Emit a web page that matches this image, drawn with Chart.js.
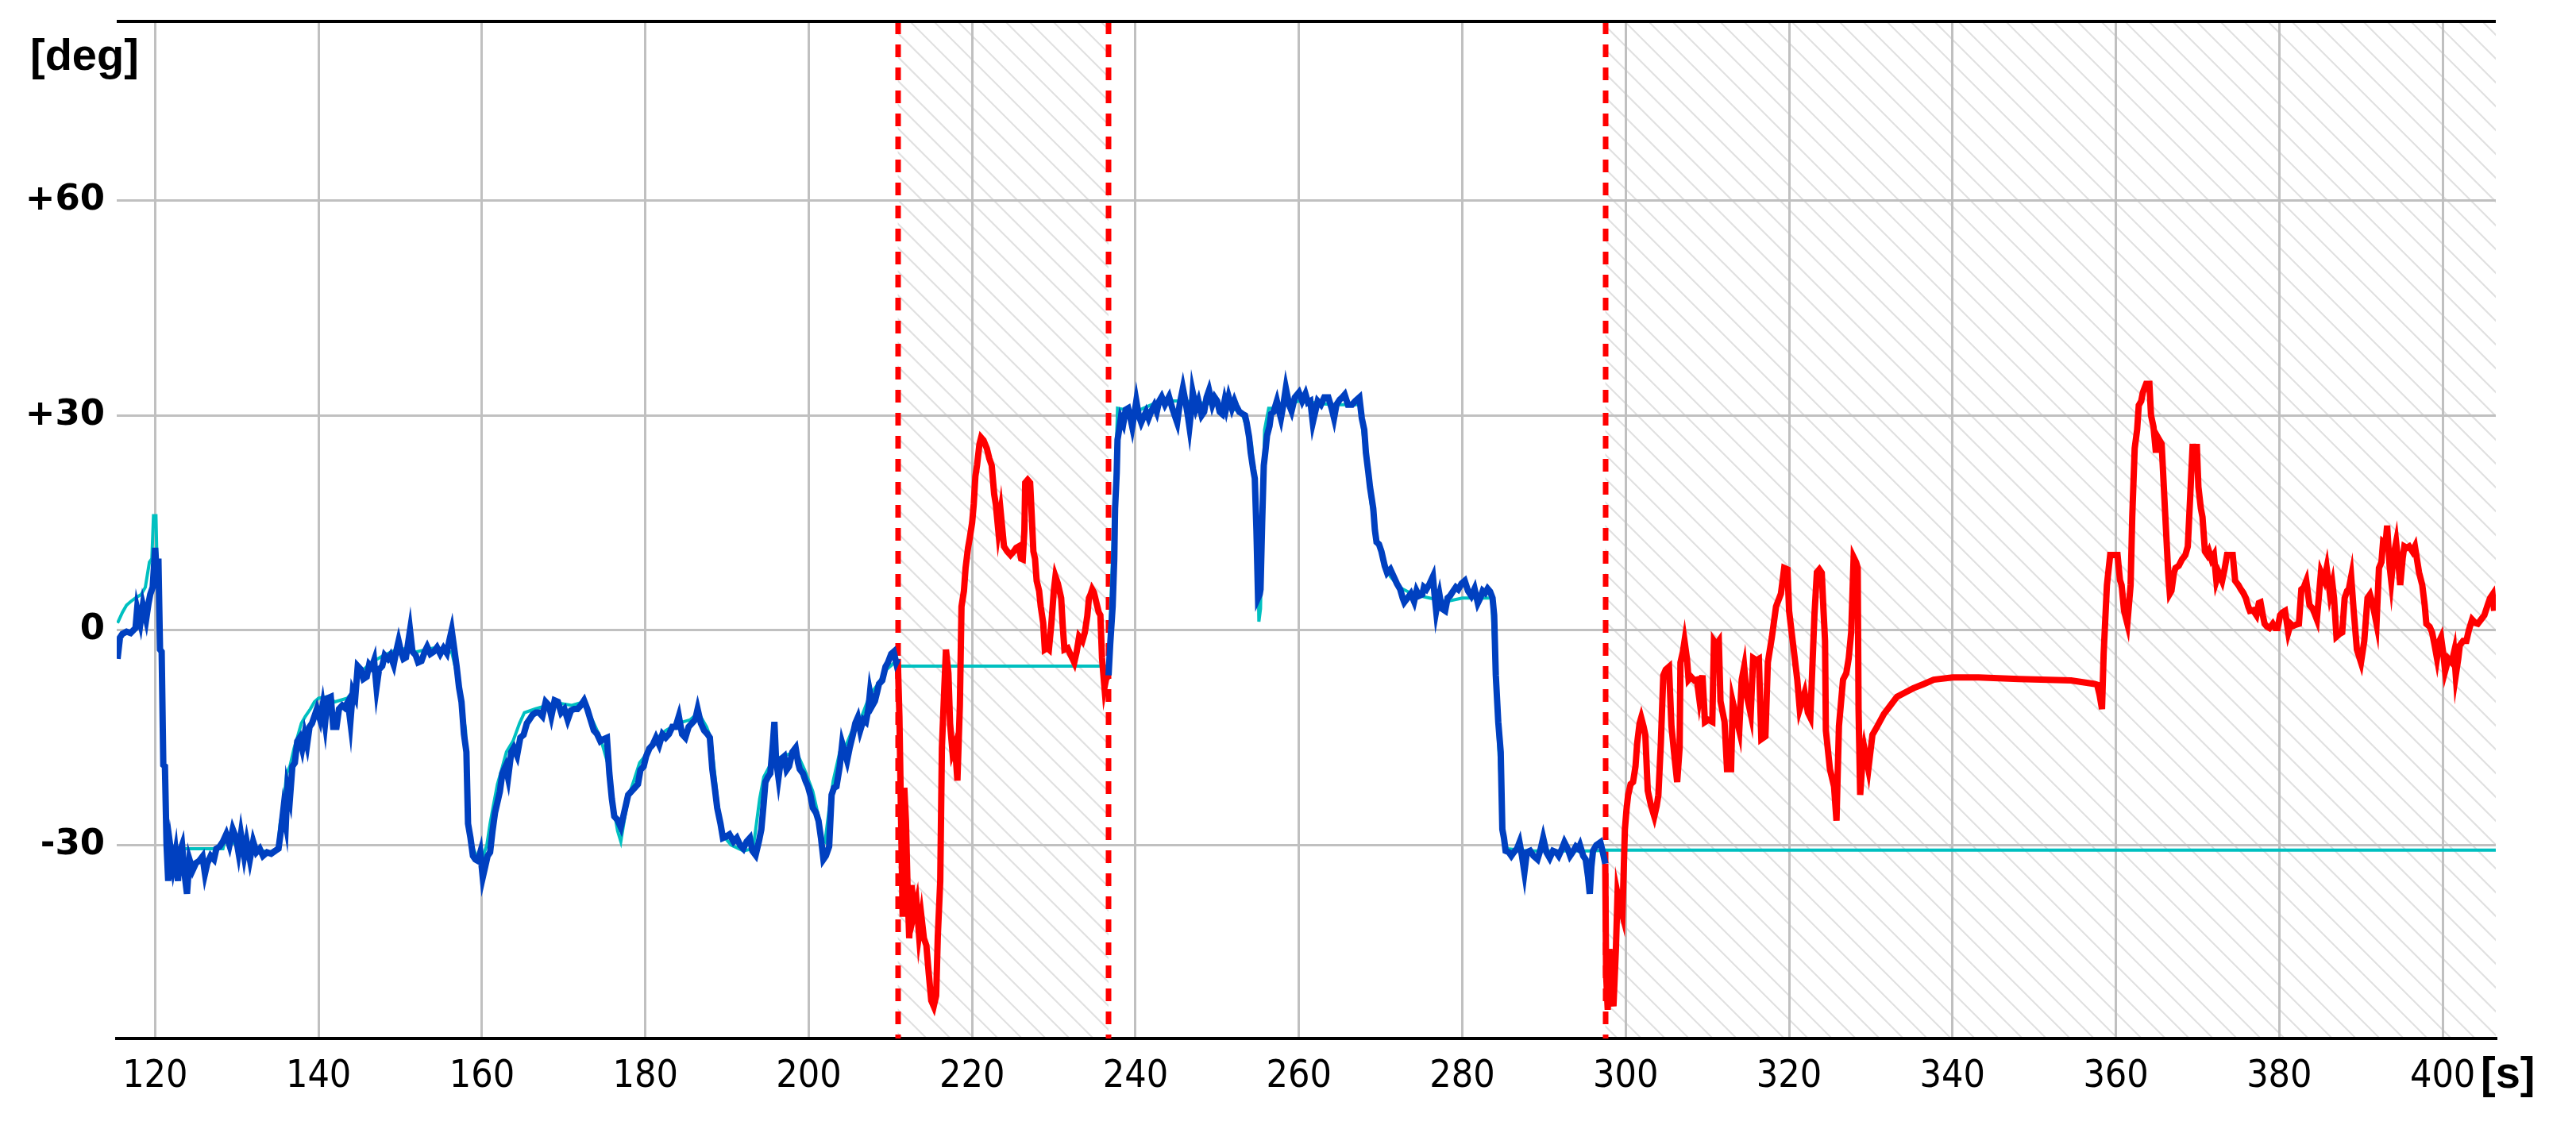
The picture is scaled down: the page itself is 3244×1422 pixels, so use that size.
<!DOCTYPE html>
<html>
<head>
<meta charset="utf-8">
<title>deg / s</title>
<script src="https://cdn.jsdelivr.net/npm/chart.js"></script>
<style>
  html, body { margin: 0; padding: 0; background: #fff; }
  #chart { display: block; }
</style>
</head>
<body>
<canvas id="chart" width="3244" height="1422" style="width:3244px;height:1422px"></canvas>
<script>
// axes
const xRange = [115.3, 406.5];
const yRange = [-57, 85];
const xTicks = [120, 140, 160, 180, 200, 220, 240, 260, 280, 300, 320, 340, 360, 380, 400];
const yTicks = [-30, 0, 30, 60];

// moments de bascule (traits rouges pointilles) et zones hachurees
const switchTimes = [210.9, 236.7, 297.5];
const manualSpans = [[210.9, 236.7], [297.5, 406.5]];

// mesure (bleu) - 1er troncon [t (s), angle (deg)]
const blue1 = [
  [115.4,-4.0],[115.7,-1.0],[116.0,-0.5],[116.5,-0.2],[117.0,-0.4],[117.6,0.3],[117.8,3.0],[118.2,1.0],
  [118.5,3.5],[118.9,1.5],[119.2,3.8],[119.4,5.0],[119.7,6.0],[120.0,11.5],[120.2,8.0],[120.4,10.0],
  [120.6,-2.7],[120.8,-3.0],[121.0,-18.8],[121.2,-19.0],[121.4,-30.0],[121.6,-35.0],[121.9,-30.5],[122.2,-33.0],
  [122.5,-31.0],[122.8,-35.0],[123.0,-31.0],[123.3,-30.0],[123.6,-34.0],[123.9,-36.8],[124.2,-32.0],[124.6,-33.5],
  [125.0,-32.5],[125.4,-32.2],[125.8,-31.6],[126.1,-34.0],[126.4,-32.5],[126.8,-31.5],[127.2,-32.0],[127.5,-30.5],
  [127.9,-30.2],[128.3,-29.5],[128.7,-28.5],[129.1,-30.0],[129.5,-27.8],[129.9,-29.0],[130.2,-31.0],[130.5,-28.5],
  [130.9,-31.5],[131.2,-29.5],[131.6,-32.0],[132.0,-29.5],[132.4,-31.0],[132.8,-30.5],[133.2,-31.5],[133.7,-31.0],
  [134.2,-31.2],[134.7,-30.8],[135.1,-30.5],[135.4,-28.0],[135.7,-25.0],[136.0,-27.0],[136.2,-22.0],[136.5,-23.5],
  [136.8,-19.0],[137.1,-18.5],[137.4,-15.5],[137.7,-15.0],[138.0,-16.5],[138.3,-14.5],[138.6,-16.0],[138.9,-13.5],
  [139.2,-13.0],[139.5,-12.0],[139.8,-11.0],[140.2,-12.5],[140.5,-10.5],[140.8,-13.0],[141.1,-9.5],[141.5,-9.3],
  [141.8,-13.5],[142.2,-13.5],[142.5,-11.0],[142.9,-10.5],[143.2,-10.8],[143.6,-10.0],[143.9,-12.8],[144.2,-8.5],
  [144.5,-9.3],[144.8,-5.0],[145.2,-5.5],[145.5,-6.8],[145.9,-6.5],[146.2,-4.8],[146.5,-5.2],[146.8,-4.2],
  [147.1,-8.0],[147.4,-5.5],[147.8,-5.0],[148.1,-3.5],[148.5,-4.0],[148.8,-3.5],[149.2,-4.8],[149.5,-3.0],
  [149.8,-1.5],[150.1,-3.0],[150.4,-4.0],[150.7,-3.8],[151.0,-1.5],[151.2,0.0],[151.5,-3.0],[151.9,-3.5],
  [152.2,-4.5],[152.6,-4.3],[153.0,-3.0],[153.3,-2.3],[153.7,-3.3],[154.1,-3.0],[154.5,-2.4],[154.9,-3.3],
  [155.3,-2.5],[155.7,-3.2],[156.0,-1.5],[156.3,0.0],[156.6,-2.5],[156.9,-5.0],[157.2,-8.0],[157.5,-10.0],
  [157.8,-14.5],[158.1,-17.0],[158.3,-27.0],[158.6,-29.0],[158.9,-31.5],[159.2,-32.0],[159.5,-32.2],[159.8,-31.0],
  [160.1,-34.5],[160.4,-33.0],[160.7,-31.5],[161.0,-31.0],[161.3,-28.0],[161.6,-25.5],[161.9,-24.0],[162.2,-22.5],
  [162.5,-20.0],[162.9,-19.0],[163.2,-20.6],[163.6,-17.0],[163.9,-16.4],[164.3,-17.5],[164.7,-15.0],[165.1,-14.6],
  [165.5,-13.0],[165.8,-12.5],[166.2,-11.8],[166.6,-11.5],[167.0,-11.5],[167.4,-12.0],[167.8,-10.0],[168.2,-10.5],
  [168.5,-12.0],[168.9,-9.8],[169.3,-10.0],[169.7,-11.5],[170.1,-11.0],[170.5,-12.5],[170.9,-11.2],[171.3,-11.0],
  [171.7,-11.0],[172.1,-10.5],[172.5,-9.8],[172.9,-11.0],[173.3,-12.5],[173.7,-14.0],[174.1,-14.5],[174.5,-15.5],
  [174.9,-15.2],[175.3,-15.0],[175.6,-20.0],[175.9,-23.5],[176.2,-26.0],[176.6,-26.5],[177.0,-27.5],[177.3,-26.0],
  [177.6,-24.5],[177.9,-23.0],[178.3,-22.5],[178.7,-22.0],[179.1,-21.5],[179.4,-19.5],[179.8,-19.0],[180.1,-17.6],
  [180.5,-16.5],[180.9,-16.0],[181.3,-15.0],[181.7,-16.0],[182.1,-14.5],[182.5,-15.0],[182.9,-14.5],[183.3,-13.5],
  [183.7,-13.5],[184.1,-12.0],[184.5,-14.5],[184.9,-15.0],[185.3,-13.5],[185.7,-13.0],[186.1,-12.5],[186.4,-11.0],
  [186.8,-13.0],[187.2,-14.0],[187.6,-14.5],[187.9,-15.0],[188.2,-19.4],[188.5,-22.0],[188.8,-24.8],[189.2,-27.0],
  [189.5,-29.0],[189.9,-28.8],[190.3,-28.5],[190.8,-29.5],[191.2,-29.0],[191.6,-30.0],[192.0,-30.5],[192.4,-29.5],
  [192.8,-29.0],[193.1,-30.8],[193.5,-31.4],[193.9,-29.5],[194.2,-27.8],[194.5,-24.0],[194.7,-21.2],[195.0,-20.5],
  [195.3,-20.0],[195.6,-16.0],[195.8,-12.8],[196.0,-18.0],[196.3,-20.6],[196.6,-18.0],[197.0,-17.6],[197.3,-19.5],
  [197.6,-19.0],[198.0,-17.0],[198.4,-16.4],[198.7,-18.5],[198.9,-19.4],[199.3,-20.0],[199.6,-21.0],[199.9,-21.8],
  [200.2,-23.0],[200.5,-24.8],[200.9,-25.5],[201.2,-26.6],[201.5,-29.0],[201.8,-32.0],[202.1,-31.5],[202.5,-30.2],
  [202.8,-23.0],[203.1,-22.0],[203.4,-21.8],[203.8,-19.0],[204.1,-15.8],[204.4,-17.0],[204.7,-18.2],[205.0,-16.5],
  [205.4,-14.6],[205.7,-13.0],[206.0,-12.2],[206.3,-14.0],[206.7,-12.5],[207.0,-12.8],[207.3,-11.0],[207.5,-8.7],
  [207.8,-10.5],[208.1,-9.9],[208.4,-8.5],[208.6,-7.5],[209.0,-7.0],[209.4,-5.1],[209.7,-4.5],[210.1,-3.3],
  [210.4,-3.0],[210.7,-4.5],[210.9,-4.0]
];

// mesure (bleu) - 2e troncon
const blue2 = [
  [236.7,-6.3],[236.9,-2.0],[237.2,3.3],[237.4,10.0],[237.5,17.0],[237.7,22.0],[237.8,26.6],[238.0,28.0],
  [238.2,29.6],[238.5,28.8],[238.8,30.8],[239.1,31.0],[239.4,29.5],[239.6,28.4],[239.9,30.5],[240.1,32.0],
  [240.4,30.0],[240.7,29.0],[241.0,29.8],[241.3,30.5],[241.6,29.6],[241.9,30.5],[242.3,31.4],[242.6,30.5],
  [242.9,32.0],[243.2,32.6],[243.6,31.5],[244.1,32.6],[244.5,31.0],[244.8,30.0],[245.1,29.0],[245.4,31.5],
  [245.8,33.8],[246.1,32.0],[246.4,30.0],[246.6,28.4],[246.9,31.5],[247.0,33.2],[247.4,31.0],[247.7,32.0],
  [248.1,30.0],[248.4,30.5],[248.7,32.5],[249.0,33.5],[249.4,31.5],[249.7,32.5],[250.0,32.0],[250.3,30.5],
  [250.6,30.2],[250.9,32.0],[251.1,31.0],[251.4,32.6],[251.8,31.0],[252.1,32.0],[252.3,31.4],[252.7,30.5],
  [253.1,30.2],[253.4,30.0],[253.6,29.0],[253.9,27.0],[254.1,24.8],[254.4,22.5],[254.6,21.2],[254.8,14.0],
  [255.0,4.5],[255.2,5.0],[255.3,5.7],[255.5,15.0],[255.7,23.0],[255.9,25.0],[256.1,27.2],[256.4,28.5],
  [256.6,30.2],[256.9,30.5],[257.3,32.0],[257.6,30.5],[257.8,29.6],[258.1,31.5],[258.4,33.8],[258.8,31.5],
  [259.1,30.6],[259.5,32.5],[260.0,33.2],[260.4,32.0],[260.8,33.0],[261.1,31.8],[261.4,32.0],[261.7,29.0],
  [262.0,30.5],[262.3,32.0],[262.7,31.5],[263.1,32.5],[263.6,32.5],[264.0,31.0],[264.3,29.6],[264.6,31.5],
  [265.0,32.2],[265.3,32.5],[265.6,32.9],[266.0,31.5],[266.5,31.5],[266.9,32.0],[267.4,32.5],[267.7,29.6],
  [268.0,28.0],[268.2,24.8],[268.5,22.0],[268.7,20.0],[268.9,18.5],[269.1,17.0],[269.3,14.0],[269.5,12.3],
  [269.8,12.0],[270.1,11.0],[270.5,9.0],[270.8,8.0],[271.2,8.5],[271.6,7.5],[272.0,6.5],[272.4,5.7],
  [272.7,4.5],[272.9,3.9],[273.3,4.5],[273.7,5.1],[274.1,4.0],[274.4,5.5],[274.7,4.8],[275.1,5.0],
  [275.3,6.0],[275.6,5.7],[276.0,6.5],[276.4,7.5],[276.6,5.0],[276.8,2.7],[277.0,4.0],[277.2,5.0],
  [277.5,3.0],[277.9,2.7],[278.2,4.5],[278.5,4.8],[278.9,5.5],[279.2,6.0],[279.5,5.7],[279.9,6.5],
  [280.3,6.9],[280.7,5.5],[281.1,4.8],[281.5,5.8],[281.9,3.8],[282.2,4.5],[282.5,5.5],[282.8,5.2],
  [283.1,5.8],[283.4,5.4],[283.7,4.5],[283.9,2.1],[284.1,-6.3],[284.4,-12.8],[284.7,-17.0],[284.9,-27.8],
  [285.1,-29.0],[285.3,-30.8],[285.7,-31.0],[286.0,-31.5],[286.3,-31.0],[286.7,-30.5],[287.0,-29.6],[287.3,-31.5],
  [287.6,-33.8],[287.9,-31.0],[288.3,-30.8],[288.7,-31.5],[289.2,-32.0],[289.6,-30.5],[289.9,-29.0],[290.3,-31.0],
  [290.7,-31.8],[291.1,-30.8],[291.5,-31.0],[291.8,-31.5],[292.2,-30.5],[292.5,-29.6],[292.9,-30.5],[293.2,-31.5],
  [293.5,-31.0],[293.9,-30.2],[294.2,-30.5],[294.4,-30.0],[294.8,-31.5],[295.1,-32.0],[295.4,-34.5],[295.6,-36.8],
  [295.8,-33.0],[296.0,-30.8],[296.4,-30.0],[296.9,-29.6],[297.2,-31.0],[297.5,-32.6]
];

// mesure en mode manuel (rouge) - 1er troncon
const red1 = [
  [210.9,-4.0],[211.1,-12.0],[211.3,-26.0],[211.5,-40.0],[211.7,-22.0],[211.9,-26.6],[212.1,-36.0],[212.3,-43.0],
  [212.6,-35.6],[212.9,-39.5],[213.2,-38.0],[213.5,-42.5],[213.8,-40.0],[214.1,-43.0],[214.4,-44.0],[214.7,-48.0],
  [215.0,-51.7],[215.3,-52.5],[215.6,-51.0],[215.8,-42.7],[216.1,-35.0],[216.3,-16.4],[216.6,-8.0],[216.8,-2.7],
  [217.1,-6.0],[217.3,-13.0],[217.6,-17.0],[217.9,-16.0],[218.2,-21.0],[218.5,-10.5],[218.7,3.3],[219.0,5.5],
  [219.2,8.7],[219.5,11.5],[219.7,12.8],[220.0,15.0],[220.2,17.6],[220.4,21.5],[220.6,23.0],[220.9,26.0],
  [221.1,26.9],[221.4,26.5],[221.8,25.4],[222.1,24.0],[222.4,23.0],[222.7,19.0],[222.9,17.6],[223.2,14.0],
  [223.5,16.5],[223.9,11.7],[224.3,11.0],[224.7,10.5],[225.1,11.0],[225.4,11.5],[225.7,11.7],[226.0,10.0],
  [226.2,9.9],[226.4,14.0],[226.5,20.6],[226.8,21.0],[227.1,20.6],[227.3,16.0],[227.5,11.0],[227.7,10.0],
  [227.9,6.9],[228.2,5.5],[228.4,3.3],[228.7,1.0],[228.9,-2.7],[229.2,-2.5],[229.4,-2.7],[229.7,0.9],
  [230.0,5.5],[230.2,7.5],[230.5,6.5],[230.9,4.5],[231.1,0.5],[231.3,-2.7],[231.7,-2.5],[232.0,-3.3],
  [232.3,-4.0],[232.5,-4.5],[232.8,-3.0],[233.1,-0.9],[233.5,-1.5],[233.8,-0.3],[234.1,2.0],[234.3,4.5],
  [234.5,5.0],[234.7,5.7],[234.9,5.3],[235.2,3.9],[235.5,2.5],[235.7,2.1],[235.9,-3.9],[236.2,-8.0],
  [236.4,-6.8],[236.7,-6.3]
];

// mesure en mode manuel (rouge) - 2e troncon
const red2 = [
  [297.5,-32.6],[297.6,-48.0],[297.8,-53.0],[298.0,-44.5],[298.2,-50.0],[298.5,-52.5],[298.8,-44.5],[299.0,-36.8],
  [299.3,-38.5],[299.6,-39.8],[299.9,-27.8],[300.1,-25.0],[300.3,-23.0],[300.6,-21.5],[300.9,-21.2],[301.2,-19.0],
  [301.4,-15.8],[301.7,-13.0],[301.9,-12.2],[302.2,-13.5],[302.4,-14.6],[302.7,-22.4],[303.1,-24.5],[303.5,-26.0],
  [303.8,-24.5],[304.0,-23.0],[304.3,-15.8],[304.6,-6.3],[304.9,-5.5],[305.3,-5.1],[305.6,-13.4],[306.0,-18.0],
  [306.3,-21.2],[306.6,-16.4],[306.7,-4.5],[307.0,-3.0],[307.2,-1.5],[307.5,-4.0],[307.7,-6.9],[308.0,-6.5],
  [308.4,-7.0],[308.7,-6.9],[309.0,-9.5],[309.4,-6.3],[309.7,-12.8],[310.1,-12.5],[310.6,-12.8],[310.8,-1.5],
  [311.1,-2.0],[311.4,-1.5],[311.6,-9.9],[312.1,-12.8],[312.4,-19.4],[312.9,-19.4],[313.1,-10.0],[313.5,-12.0],
  [313.9,-14.0],[314.2,-6.9],[314.5,-5.1],[314.8,-9.0],[315.3,-11.7],[315.6,-3.9],[316.0,-4.2],[316.3,-4.0],
  [316.6,-15.2],[317.1,-14.8],[317.4,-4.5],[317.9,-0.9],[318.4,3.3],[319.0,5.1],[319.4,8.7],[319.8,8.5],
  [320.0,2.7],[320.5,-2.1],[321.0,-6.9],[321.3,-11.0],[321.9,-8.7],[322.3,-11.5],[322.6,-12.2],[323.1,2.1],
  [323.4,8.1],[323.7,8.5],[324.0,8.0],[324.2,3.0],[324.4,-1.5],[324.5,-14.0],[325.0,-19.4],[325.5,-21.8],
  [325.8,-26.6],[326.1,-13.4],[326.6,-6.9],[327.0,-6.0],[327.3,-3.9],[327.6,-0.3],[327.9,10.2],[328.2,9.5],
  [328.4,8.7],[328.5,-11.0],[328.7,-23.0],[329.0,-18.0],[329.2,-16.4],[329.7,-19.4],[330.2,-14.6],[330.8,-13.4],
  [331.6,-11.7],[332.4,-10.5],[333.2,-9.3],[334.2,-8.7],[335.2,-8.1],[336.5,-7.5],[337.7,-6.9],[340.0,-6.6],
  [343.2,-6.6],[348.1,-6.8],[354.5,-7.0],[357.4,-7.5],[357.7,-7.6],[358.0,-9.0],[358.3,-11.0],[358.5,-3.3],
  [358.9,6.3],[359.3,10.5],[359.8,10.5],[360.2,10.5],[360.5,7.0],[360.7,6.3],[361.0,2.7],[361.4,0.9],
  [361.8,6.3],[362.0,15.8],[362.3,25.4],[362.6,28.0],[362.8,31.4],[363.1,32.0],[363.3,33.2],[363.7,34.4],
  [364.1,34.4],[364.3,30.0],[364.6,28.4],[364.9,24.8],[365.1,27.0],[365.6,26.0],[366.0,17.0],[366.4,8.1],
  [366.6,5.1],[366.8,5.5],[367.1,8.0],[367.3,8.7],[367.7,9.0],[368.1,9.9],[368.5,10.5],[368.8,11.7],
  [369.1,18.8],[369.4,26.0],[369.7,23.0],[369.9,26.0],[370.1,20.0],[370.4,17.0],[370.6,15.8],[370.9,11.0],
  [371.2,10.5],[371.4,11.0],[371.7,9.9],[372.0,10.5],[372.3,6.9],[372.6,8.0],[373.0,6.9],[373.3,8.5],
  [373.6,10.5],[374.0,10.5],[374.3,10.5],[374.6,6.9],[375.0,6.3],[375.3,5.7],[375.6,5.2],[375.9,4.5],
  [376.2,3.3],[376.4,2.7],[376.8,2.8],[377.2,2.1],[377.5,3.8],[377.7,3.9],[378.0,2.0],[378.2,0.9],
  [378.5,0.5],[378.8,0.3],[379.2,0.9],[379.5,0.3],[379.8,0.3],[380.1,2.1],[380.4,2.5],[380.7,2.7],
  [381.1,-0.3],[381.4,0.9],[381.7,0.6],[382.1,0.8],[382.4,0.9],[382.7,5.7],[383.0,6.0],[383.3,6.9],
  [383.7,3.5],[384.1,3.0],[384.6,1.5],[385.1,8.1],[385.5,7.0],[385.8,8.7],[386.2,5.0],[386.5,6.5],
  [386.7,4.5],[387.0,-0.9],[387.4,-0.5],[387.7,-0.3],[388.0,4.5],[388.3,5.5],[388.5,5.7],[388.8,7.5],
  [389.1,2.8],[389.5,-2.7],[390.0,-4.5],[390.4,-1.5],[390.8,4.5],[391.1,5.0],[391.4,3.8],[391.9,0.9],
  [392.2,8.7],[392.5,9.5],[392.7,12.3],[393.0,12.0],[393.2,14.6],[393.5,9.0],[393.7,6.9],[394.0,10.5],
  [394.3,12.3],[394.6,9.0],[394.8,6.3],[395.1,10.0],[395.3,11.7],[395.6,11.5],[395.9,11.7],[396.3,11.0],
  [396.6,11.7],[397.1,8.1],[397.5,6.3],[397.8,3.5],[398.0,0.9],[398.4,0.5],[398.7,-0.3],[399.0,-2.0],
  [399.3,-3.9],[399.6,-1.5],[399.8,-1.0],[400.1,-3.5],[400.3,-5.7],[400.7,-4.0],[401.1,-4.5],[401.4,-3.0],
  [401.6,-6.3],[401.9,-4.0],[402.1,-2.1],[402.5,-1.5],[402.9,-1.5],[403.2,0.0],[403.6,1.5],[404.0,1.0],
  [404.3,0.9],[404.7,1.5],[405.1,2.1],[405.5,3.5],[405.8,4.5],[406.1,5.0],[406.3,2.7]
];

// consigne (cyan)
const setpoint = [
  [115.4,1.0],[116.0,2.5],[116.5,3.5],[117.0,4.0],[117.6,4.5],[118.3,5.0],[118.8,6.0],[119.3,9.5],
  [119.6,10.0],[119.8,16.0],[120.1,16.0],[120.2,11.0],[120.5,5.0],[120.8,-5.0],[121.1,-18.0],[121.5,-30.0],
  [122.0,-30.0],[122.4,-30.5],[128.3,-30.5],[128.6,-29.0],[130.0,-30.0],[132.0,-30.5],[134.0,-31.0],[135.0,-30.5],
  [135.3,-27.0],[135.7,-24.5],[136.1,-20.0],[136.5,-19.0],[137.0,-16.5],[137.4,-15.0],[137.9,-13.0],[138.4,-12.0],
  [139.0,-11.0],[139.5,-10.0],[140.0,-9.5],[141.0,-9.3],[142.0,-10.0],[143.5,-9.5],[144.3,-8.5],[145.0,-6.0],
  [146.5,-4.5],[148.0,-3.5],[150.0,-2.5],[152.0,-3.0],[154.0,-2.5],[155.5,-3.2],[156.3,-3.0],[156.7,-5.0],
  [157.2,-8.0],[158.0,-14.0],[158.3,-27.0],[158.6,-29.5],[159.5,-32.0],[160.0,-32.0],[160.6,-30.0],[161.0,-27.0],
  [161.4,-24.5],[161.9,-21.5],[162.4,-19.5],[163.0,-17.0],[163.8,-15.5],[164.6,-13.0],[165.2,-11.5],[166.5,-11.0],
  [168.0,-10.5],[169.5,-10.2],[171.0,-10.5],[172.5,-10.0],[173.5,-12.5],[174.5,-15.0],[175.5,-19.0],[176.0,-24.0],
  [176.6,-28.0],[177.0,-29.5],[177.5,-26.0],[178.0,-23.0],[178.6,-21.0],[179.3,-18.5],[180.0,-17.5],[181.0,-15.5],
  [182.5,-14.0],[184.0,-13.0],[185.5,-12.5],[186.5,-11.5],[187.5,-13.5],[188.0,-15.0],[188.4,-19.0],[188.9,-24.5],
  [189.4,-28.5],[190.5,-30.0],[192.0,-30.8],[193.2,-30.5],[193.6,-27.0],[194.0,-23.5],[194.5,-20.5],[195.2,-19.0],
  [196.0,-18.0],[197.0,-17.5],[198.5,-17.0],[199.5,-19.5],[200.5,-22.5],[201.2,-26.0],[201.6,-29.0],[202.0,-29.5],
  [202.5,-25.0],[203.0,-21.0],[203.8,-17.0],[204.6,-16.0],[205.5,-13.5],[206.5,-12.0],[207.5,-9.0],[208.5,-7.5],
  [209.5,-5.5],[210.5,-4.5],[210.9,-5.0],[236.7,-5.0],[237.5,20.0],[237.8,31.0],[240.0,30.5],[243.0,32.0],
  [246.0,32.0],[250.0,31.5],[253.0,30.5],[254.2,26.0],[254.7,19.0],[255.0,8.0],[255.1,1.2],[255.3,3.0],
  [255.5,14.0],[255.8,28.0],[256.3,31.0],[257.0,31.0],[260.0,32.0],[264.0,31.5],[267.5,31.5],[267.8,28.0],
  [268.3,23.0],[268.8,18.0],[269.4,13.0],[270.3,10.0],[271.2,7.5],[272.3,6.0],[274.0,5.0],[276.0,4.5],
  [278.0,4.0],[280.0,4.5],[282.0,4.5],[283.6,4.5],[284.1,-8.0],[284.7,-22.0],[285.0,-28.5],[285.5,-30.5],
  [288.0,-30.8],[292.0,-30.8],[296.0,-30.8],[297.5,-30.7],[406.5,-30.7]
];

const toXY = arr => arr.map(p => ({ x: p[0], y: p[1] }));

const BLUE = '#0040c0';
const RED = '#ff0000';
const CYAN = '#00c0c0';
const GRID = '#c0c0c0';

// hachures, pointilles, cadre du haut et unites
const overlay = {
  id: 'overlay',
  beforeDraw(chart) {
    const { ctx, chartArea: a, scales: { x } } = chart;
    const h = a.bottom - a.top;
    ctx.save();
    ctx.strokeStyle = '#e0e0e0';
    ctx.lineWidth = 2;
    manualSpans.forEach(([t0, t1]) => {
      const x0 = x.getPixelForValue(t0);
      const x1 = Math.min(x.getPixelForValue(t1), a.right);
      ctx.save();
      ctx.beginPath();
      ctx.rect(x0, a.top, x1 - x0, h);
      ctx.clip();
      ctx.beginPath();
      for (let sx = a.left - h; sx < a.right; sx += 30) {
        ctx.moveTo(sx, a.top);
        ctx.lineTo(sx + h, a.bottom);
      }
      ctx.stroke();
      ctx.restore();
    });
    ctx.restore();
  },
  beforeDatasetsDraw(chart) {
    const { ctx, chartArea: a, scales: { x } } = chart;
    ctx.save();
    ctx.strokeStyle = RED;
    ctx.lineWidth = 7;
    ctx.setLineDash([16, 13]);
    switchTimes.forEach(t => {
      const px = Math.round(x.getPixelForValue(t));
      ctx.beginPath();
      ctx.moveTo(px, a.top);
      ctx.lineTo(px, a.bottom);
      ctx.stroke();
    });
    ctx.restore();
  },
  afterDraw(chart) {
    const { ctx, chartArea: a } = chart;
    ctx.save();
    ctx.strokeStyle = '#000';
    ctx.lineWidth = 4;
    ctx.beginPath();
    ctx.moveTo(a.left, a.top);
    ctx.lineTo(a.right, a.top);
    ctx.stroke();
    ctx.fillStyle = '#000';
    ctx.font = 'bold 56px "Liberation Sans", Arial, sans-serif';
    ctx.textAlign = 'left';
    ctx.textBaseline = 'alphabetic';
    ctx.fillText('[deg]', 38, 88);
    ctx.fillText('[s]', a.right - 19, a.bottom + 62);
    ctx.restore();
  }
};

const ctx = document.getElementById('chart').getContext('2d');

const chart = new Chart(ctx, {
  type: 'line',
  data: {
    datasets: [
      { label: 'consigne', data: toXY(setpoint), borderColor: CYAN, borderWidth: 4, order: 3 },
      { label: 'mesure', data: toXY(blue1), borderColor: BLUE, borderWidth: 8, order: 1 },
      { label: 'mesure', data: toXY(blue2), borderColor: BLUE, borderWidth: 8, order: 1 },
      { label: 'manuel', data: toXY(red1), borderColor: RED, borderWidth: 8, order: 1 },
      { label: 'manuel', data: toXY(red2), borderColor: RED, borderWidth: 8, order: 1 }
    ]
  },
  options: {
    responsive: false,
    animation: false,
    devicePixelRatio: 1,
    layout: { padding: { left: 0, top: 27, right: 101, bottom: 0 } },
    elements: {
      point: { radius: 0, hoverRadius: 0 },
      line: { tension: 0, fill: false, borderJoinStyle: 'miter' }
    },
    plugins: { legend: { display: false }, tooltip: { enabled: false } },
    scales: {
      x: {
        type: 'linear',
        min: xRange[0],
        max: xRange[1],
        afterBuildTicks: s => { s.ticks = xTicks.map(v => ({ value: v })); },
        afterFit: s => { s.height = 114; s.paddingLeft = 0; s.paddingRight = 0; },
        grid: { color: GRID, lineWidth: 3, drawTicks: false },
        border: { display: true, color: '#000', width: 4 },
        ticks: {
          color: '#000',
          padding: 20,
          maxRotation: 0,
          autoSkip: false,
          font: { family: '"Liberation Sans Narrow", "DejaVu Sans Condensed", "Liberation Sans"', size: 48 },
          callback: v => String(v)
        }
      },
      y: {
        type: 'linear',
        min: yRange[0],
        max: yRange[1],
        afterBuildTicks: s => { s.ticks = yTicks.map(v => ({ value: v })); },
        afterFit: s => { s.width = 147; s.paddingTop = 0; s.paddingBottom = 0; },
        grid: { color: GRID, lineWidth: 3, drawTicks: false },
        border: { display: false },
        ticks: {
          color: '#000',
          padding: 15,
          font: { family: '"DejaVu Sans"', weight: 'bold', size: 45 },
          callback: v => (v > 0 ? '+' + v : String(v))
        }
      }
    }
  },
  plugins: [overlay]
});
</script>
</body>
</html>
